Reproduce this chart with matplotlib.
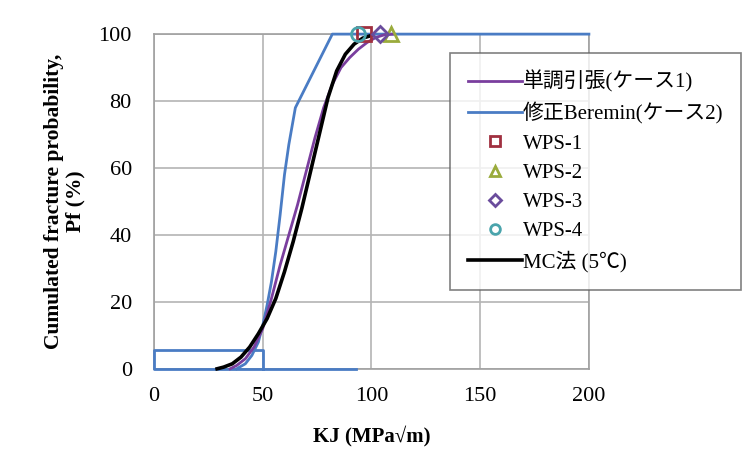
import matplotlib.pyplot as plt
import matplotlib.lines as mlines

# 単調引張(ケース1)
kj_case1 = [35, 38, 42, 46, 50, 54, 58, 62, 66, 70, 74, 78, 82, 86, 90, 94, 98, 102, 106, 110]
pf_case1 = [0, 1, 3, 6.5, 12, 21, 31, 40, 49, 59, 69, 78, 85, 90, 93, 95.5, 97.5, 99, 99.8, 100]

# 修正Beremin(ケース2)
kj_case2 = [38, 42, 45, 48, 50, 52, 54, 56, 58, 60, 62, 65, 82, 200]
pf_case2 = [0, 1.5, 4, 8, 13, 19, 26, 35, 46, 58, 67, 78, 100, 100]
kj_case2_base = [93, 0, 0, 50, 50]
pf_case2_base = [0, 0, 5.5, 5.5, 0]

# MC法 (5℃)
kj_mc = [29, 32, 36, 40, 44, 48, 52, 56, 60, 64, 68, 72, 76, 80, 84, 88, 92, 96, 100]
pf_mc = [0, 0.5, 1.5, 3.5, 6.5, 10.5, 15, 21, 29, 38, 48, 59, 70, 81, 89, 94, 97, 98.8, 99.6]

# WPS 試験
wps_names = ['WPS-1', 'WPS-2', 'WPS-3', 'WPS-4']
wps_kj = [96.5, 109, 104, 94]
wps_pf = [100, 100, 100, 100]
wps_markers = ['s', '^', 'D', 'o']
wps_colors = ['#a03040', '#9aab3c', '#6a4c9c', '#4aa4ac']

c_purple = '#7a3e9e'
c_blue = '#4a7cc4'

plt.rcParams['font.family'] = ['Liberation Serif', 'Noto Sans CJK JP']

fig = plt.figure(figsize=(7.55, 4.61), dpi=100)
ax = fig.add_axes([0.204, 0.200, 0.576, 0.726])

ax.plot(kj_case2_base, pf_case2_base, color=c_blue, lw=2, clip_on=False, zorder=3)
ax.plot(kj_case2, pf_case2, color=c_blue, lw=2, clip_on=False, zorder=3)
ax.plot(kj_case1, pf_case1, color=c_purple, lw=2, clip_on=False, zorder=4)
ax.plot(kj_mc, pf_mc, color='black', lw=2.6, clip_on=False, zorder=5)

for name, x, y, m, c in zip(wps_names, wps_kj, wps_pf, wps_markers, wps_colors):
    ax.plot(x, y, marker=m, ms=10 if m != 'D' else 8, mfc='none', mec=c, mew=2,
            ls='none', clip_on=False, zorder=6)

ax.set_xlim(0, 200)
ax.set_ylim(0, 100)
ax.set_xticks([0, 50, 100, 150, 200])
ax.set_yticks([0, 20, 40, 60, 80, 100])
ax.grid(True, color='#b4b4b4', lw=1.2)
ax.set_axisbelow(True)
for s in ax.spines.values():
    s.set_color('#a0a0a0')
    s.set_linewidth(1.2)
ax.tick_params(length=0, labelsize=16, pad=16)
ax.tick_params(axis='x', pad=13)

ax.set_xlabel('KJ (MPa√m)', fontsize=15, fontweight='bold', labelpad=14)
ax.set_ylabel('Cumulated fracture probability,\nPf (%)', fontsize=15.5,
              fontweight='bold', labelpad=9, linespacing=1.15)

handles = [
    mlines.Line2D([], [], color=c_purple, lw=2),
    mlines.Line2D([], [], color=c_blue, lw=2),
]
for m, c in zip(wps_markers, wps_colors):
    handles.append(mlines.Line2D([], [], marker=m, ms=7 if m != 'D' else 6, mfc='none',
                                 mec=c, mew=2, ls='none'))
handles.append(mlines.Line2D([], [], color='black', lw=2.6))
labels = ['単調引張(ケース1)', '修正Beremin(ケース2)'] + wps_names + ['MC法 (5℃)']

leg = fig.legend(handles, labels, loc='upper left', bbox_to_anchor=(0.596, 0.885),
                 fontsize=15, frameon=True, fancybox=False, edgecolor='#606060',
                 handlelength=2.6, handletextpad=0.05, labelspacing=0.46,
                 borderpad=0.85, borderaxespad=0)
leg.get_frame().set_linewidth(1.2)

fig.savefig('out.png', dpi=100)
